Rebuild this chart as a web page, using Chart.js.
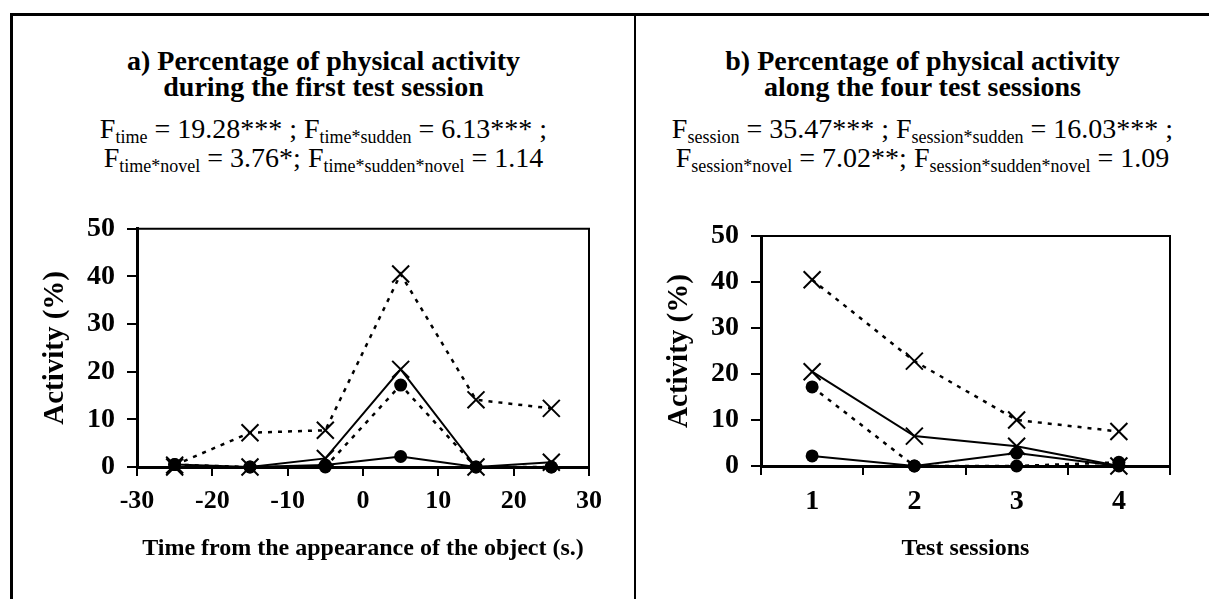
<!DOCTYPE html>
<html>
<head>
<meta charset="utf-8">
<script src="https://cdn.jsdelivr.net/npm/chart.js@4/dist/chart.umd.min.js"></script>
<style>
  html, body { margin: 0; padding: 0; background: #fff; }
  body { width: 1209px; height: 599px; position: relative; overflow: hidden; font-family: "Liberation Serif", "Times New Roman", serif; color: #000; }
  .frame { position: absolute; left: 10px; top: 13px; width: 1215px; height: 620px; border: 3px solid #000; box-sizing: border-box; }
  .divider { position: absolute; left: 634px; top: 13px; width: 2px; height: 600px; background: #000; }
  .title { position: absolute; text-align: center; font-weight: bold; font-size: 28px; line-height: 26px; white-space: nowrap; }
  .stats { position: absolute; text-align: center; font-size: 28px; line-height: 29px; white-space: nowrap; }
  .stats sub { font-size: 18px; vertical-align: -5px; line-height: 0; }
  .box { position: absolute; top: 200px; height: 399px; }
</style>
</head>
<body>
<div class="frame"></div>
<div class="divider"></div>

<div class="title" style="left:13px; width:621px; top:48px;">a) Percentage of physical activity<br>during the first test session</div>
<div class="stats" style="left:13px; width:621px; top:114px;">F<sub>time</sub> = 19.28*** ; F<sub>time*sudden</sub> = 6.13*** ;<br>F<sub>time*novel</sub> = 3.76*; F<sub>time*sudden*novel</sub> = 1.14</div>

<div class="title" style="left:636px; width:573px; top:48px;">b) Percentage of physical activity<br>along the four test sessions</div>
<div class="stats" style="left:636px; width:573px; top:114px;">F<sub>session</sub> = 35.47*** ; F<sub>session*sudden</sub> = 16.03*** ;<br>F<sub>session*novel</sub> = 7.02**; F<sub>session*sudden*novel</sub> = 1.09</div>

<div class="box" style="left:13px; width:620px;"><canvas id="timeChart"></canvas></div>
<div class="box" style="left:637px; width:572px;"><canvas id="sessionChart"></canvas></div>

<script>
// panel a: time from the appearance of the object (s.)
const timePoints = [-25, -15, -5, 5, 15, 25];
const timeSolidCross = [0, 0, 1.8, 20.5, 0, 1];
const timeSolidDot = [0.5, 0, 0.4, 2.2, 0, 0];
const timeDashCross = [0.4, 7.2, 7.7, 40.5, 14.1, 12.3];
const timeDashDot = [0.5, 0, 0, 17.2, 0, 0];

// panel b: test sessions
const sessions = ["1", "2", "3", "4"];
const sessSolidCross = [20.5, 6.5, 4.3, 0];
const sessSolidDot = [2.2, 0, 2.8, 0];
const sessDashCross = [40.5, 22.8, 10, 7.5];
const sessDashDot = [17.2, 0, 0, 0.8];

const yTicks = [0, 10, 20, 30, 40, 50];
const timeTicks = [-30, -20, -10, 0, 10, 20, 30];

const SERIF = "'Liberation Serif', 'Times New Roman', serif";

/* top + right edge of the plot box */
const plotFrame = {
  id: "plotFrame",
  beforeDatasetsDraw(chart) {
    const { ctx, chartArea: a } = chart;
    ctx.save();
    ctx.strokeStyle = "#000";
    ctx.lineWidth = 2;
    ctx.beginPath();
    ctx.moveTo(a.left, a.top);
    ctx.lineTo(a.right, a.top);
    ctx.lineTo(a.right, a.bottom);
    ctx.stroke();
    ctx.restore();
  }
};

function series(values, xs, dashed, cross) {
  return {
    data: xs ? values.map((v, i) => ({ x: xs[i], y: v })) : values,
    borderColor: "#000",
    backgroundColor: "#000",
    borderWidth: dashed ? 2.5 : 2,
    borderDash: dashed ? [4, 6] : [],
    pointStyle: cross ? "crossRot" : "circle",
    pointRadius: cross ? 12 : 6.5,
    pointBorderWidth: cross ? 2 : 0,
    pointBackgroundColor: "#000",
    pointBorderColor: "#000",
    tension: 0,
    clip: false,
    order: cross ? 1 : 2
  };
}

function yScale(width, pad) {
  return {
    min: 0,
    max: 50,
    afterBuildTicks: s => { s.ticks = yTicks.map(v => ({ value: v })); },
    afterFit: s => { s.width = width; },
    ticks: { color: "#000", padding: pad, font: { family: SERIF, size: 28, weight: "bold" } },
    grid: { drawOnChartArea: false, color: "#000", lineWidth: 2, tickLength: 10 },
    border: { color: "#000", width: 3 },
    title: {
      display: true,
      text: "Activity (%)",
      color: "#000",
      font: { family: SERIF, size: 29, weight: "bold" },
      padding: { top: 25, bottom: 0 }
    }
  };
}

function xTitle(text) {
  return {
    display: true,
    text: text,
    color: "#000",
    font: { family: SERIF, size: 24, weight: "bold" },
    padding: { top: 0, bottom: 36 }
  };
}

const common = {
  responsive: true,
  maintainAspectRatio: false,
  animation: false,
  events: [],
  plugins: { legend: { display: false }, tooltip: { enabled: false } }
};

/* ---------- a) first test session ---------- */
new Chart(document.getElementById("timeChart"), {
  type: "line",
  data: {
    datasets: [
      series(timeSolidDot, timePoints, false, false),
      series(timeDashDot, timePoints, true, false),
      series(timeSolidCross, timePoints, false, true),
      series(timeDashCross, timePoints, true, true)
    ]
  },
  options: {
    ...common,
    layout: { padding: { left: 0, top: 25, right: 44, bottom: 0 } },
    scales: {
      x: {
        type: "linear",
        min: -30,
        max: 30,
        afterBuildTicks: s => { s.ticks = timeTicks.map(v => ({ value: v })); },
        afterFit: s => { s.height = 132; },
        ticks: { color: "#000", padding: 10, font: { family: SERIF, size: 26, weight: "bold" } },
        grid: { drawOnChartArea: false, color: "#000", lineWidth: 2, tickLength: 9 },
        border: { color: "#000", width: 3 },
        title: xTitle("Time from the appearance of the object (s.)")
      },
      y: yScale(124, 12)
    }
  },
  plugins: [plotFrame]
});

/* ---------- b) four test sessions ---------- */
new Chart(document.getElementById("sessionChart"), {
  type: "line",
  data: {
    labels: sessions,
    datasets: [
      series(sessSolidDot, null, false, false),
      series(sessDashDot, null, true, false),
      series(sessSolidCross, null, false, true),
      series(sessDashCross, null, true, true)
    ]
  },
  options: {
    ...common,
    layout: { padding: { left: 0, top: 36, right: 39, bottom: 0 } },
    scales: {
      x: {
        type: "category",
        offset: true,
        afterFit: s => { s.height = 133; },
        ticks: { color: "#000", padding: 10, font: { family: SERIF, size: 28, weight: "bold" } },
        grid: { drawOnChartArea: false, offset: true, color: "#000", lineWidth: 2, tickLength: 9 },
        border: { color: "#000", width: 3 },
        title: xTitle("Test sessions")
      },
      y: yScale(124, 12)
    }
  },
  plugins: [plotFrame]
});
</script>
</body>
</html>
